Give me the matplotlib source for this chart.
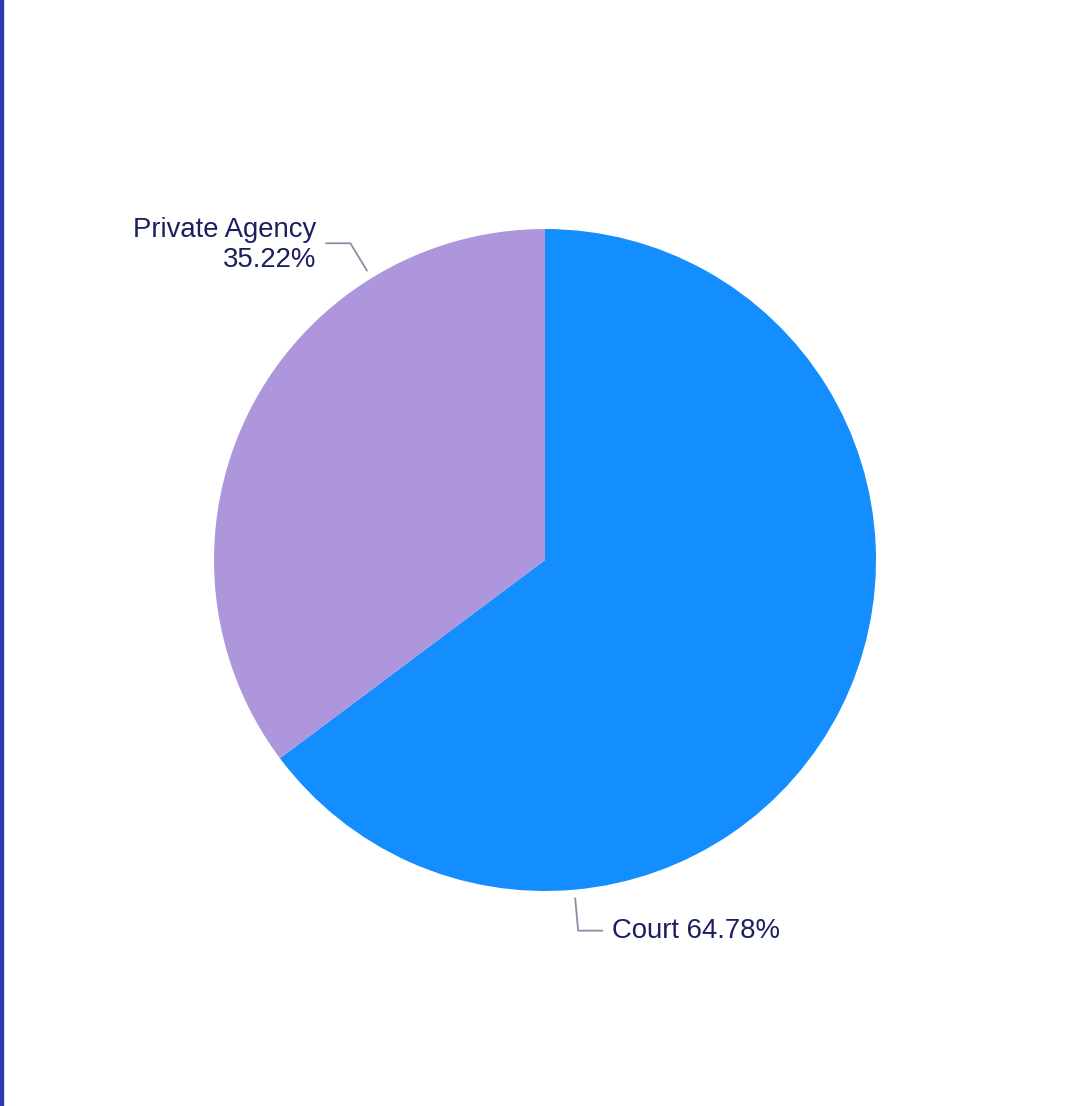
import matplotlib
matplotlib.use("Agg")
import matplotlib.pyplot as plt
from matplotlib.patches import Rectangle
import numpy as np

categories = ["Court", "Private Agency"]
values = [64.78, 35.22]
colors = ["#148EFF", "#AE96DC"]
labels = ["Court 64.78%", "Private Agency\n35.22%"]

W, H = 1083, 1106
fig = plt.figure(figsize=(W / 100, H / 100), dpi=100)
ax = fig.add_axes([0, 0, 1, 1])
ax.set_xlim(0, W)
ax.set_ylim(0, H)
ax.set_aspect("equal")
ax.axis("off")

cx, cy, r = 545, H - 560, 331
ax.pie(values, colors=colors, startangle=90, counterclock=False,
       center=(cx, cy), radius=r, wedgeprops=dict(linewidth=0),
       frame=True)
ax.set_xlim(0, W)
ax.set_ylim(0, H)
ax.axis("off")

font = ["Liberation Sans", "DejaVu Sans"]
tcol = "#1B1F5E"
lcol = "#8A8EA6"
fs = 19.8

# Court label
a = np.deg2rad(-84.9)
x0, y0 = cx + (r + 8) * np.cos(a), cy + (r + 8) * np.sin(a)
x1, y1 = x0 + 3, y0 - 33
x2 = x1 + 25
ax.plot([x0, x1, x2], [y0, y1, y1], color=lcol, lw=1.3, solid_capstyle="butt")
ax.text(x2 + 9, y1, labels[0], ha="left", va="center", fontsize=fs,
        color=tcol, family=font)

# Private Agency label
a = np.deg2rad(121.6)
x0, y0 = cx + (r + 8) * np.cos(a), cy + (r + 8) * np.sin(a)
x1, y1 = x0 - 17, y0 + 28
x2 = x1 - 25
ax.plot([x0, x1, x2], [y0, y1, y1], color=lcol, lw=1.3, solid_capstyle="butt")
ax.text(x2 - 9, y1 - 2, labels[1], ha="right", va="center", fontsize=fs,
        color=tcol, family=font, multialignment="right", linespacing=1.2)

fig.patches.append(Rectangle((0, 0), 3 / W, 1, transform=fig.transFigure,
                             color="#2A3AB0", zorder=10))

fig.savefig("out.png", dpi=100, facecolor="white")
